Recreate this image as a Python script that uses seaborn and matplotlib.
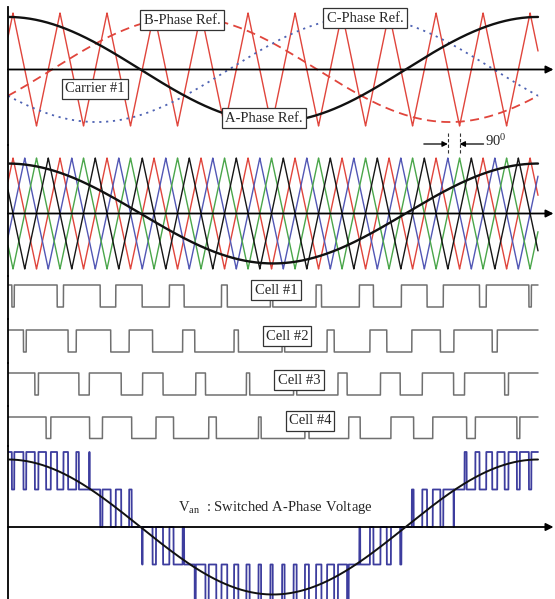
import numpy as np
import pandas as pd
import matplotlib
matplotlib.use("Agg")
import matplotlib.pyplot as plt
import seaborn as sns

sns.set_theme(style="white")
plt.rcParams["font.family"] = ["Liberation Serif", "DejaVu Serif"]
plt.rcParams["mathtext.fontset"] = "custom"
plt.rcParams["mathtext.rm"] = "Liberation Serif"
plt.rcParams["mathtext.it"] = "Liberation Serif:italic"

# ---------------- signal description ----------------
phase_names = ["A-Phase Ref.", "B-Phase Ref.", "C-Phase Ref."]
phase_peak_deg = [0, 120, 240]
phase_colors = ["#111111", "#e0453c", "#4f63b3"]
phase_dashes = [None, (5, 3), (1.2, 2.6)]
ref_amp_top = 0.93          # reference amplitude in the carrier #1 panel
mod_index = 0.90            # reference amplitude used for the comparisons

carrier_period_deg = 31.93
carrier_first_peak_deg = 3.4
carrier_shift_frac = [0.0, 0.25, 0.5, 0.75]
carrier_colors = ["#e0453c", "#5257b5", "#4aa64a", "#161616"]
cell_names = ["Cell #1", "Cell #2", "Cell #3", "Cell #4"]
cell_color = "#707070"
van_color = "#3d3d9e"

# ---------------- layout (pixels) ----------------
W, H = 555, 599
x_left, x_right = 8, 555
px_per_deg = 530 / 360
# (top, bottom, zero line, pixels per unit)
panel_px = [
    (7, 145, 69.5, 56.5),     # carrier #1 and three references
    (145, 276, 213.5, 55.5),  # four shifted carriers
    (276, 319, 307, 22),      # cell 1
    (319, 363, 352, 22),      # cell 2
    (363, 406, 395, 22),      # cell 3
    (406, 446, 438.5, 21.5),  # cell 4
    (446, 599, 527, 37.5),    # phase voltage
]

theta = np.linspace(0, 360, 24001)


def carrier(th, shift):
    u = (th - carrier_first_peak_deg) / carrier_period_deg - shift
    return 1 - 4 * np.abs(u - np.round(u))


def ref(th, peak, amp):
    return amp * np.cos(np.deg2rad(th - peak))


fig = plt.figure(figsize=(W / 100, H / 100), dpi=100)
fig.patch.set_facecolor("white")

axes = []
for top, bot, zero, ppu in panel_px:
    ax = fig.add_axes([x_left / W, 1 - bot / H, (x_right - x_left) / W, (bot - top) / H])
    ax.set_xlim(0, (x_right - x_left) / px_per_deg)
    ax.set_ylim(-(bot - zero) / ppu, (zero - top) / ppu)
    ax.set_facecolor("none")
    for s in ["top", "right", "bottom"]:
        ax.spines[s].set_visible(False)
    ax.spines["left"].set_color("black")
    ax.spines["left"].set_linewidth(1.3)
    ax.set_xticks([])
    ax.set_yticks([])
    ax.set_xlabel("")
    ax.set_ylabel("")
    axes.append(ax)


def draw(ax, y, color, lw, dashes=None, z=2):
    df = pd.DataFrame({"theta": theta, "v": y})
    kw = {}
    if dashes is not None:
        kw["dashes"] = dashes
    sns.lineplot(data=df, x="theta", y="v", ax=ax, color=color, linewidth=lw,
                 estimator=None, legend=False, zorder=z, **kw)
    ax.set_xlabel("")
    ax.set_ylabel("")


def zero_axis(ax):
    xmax = (553.5 - x_left) / px_per_deg
    ax.annotate("", xy=(xmax, 0), xytext=(0, 0),
                arrowprops=dict(arrowstyle="-|>", color="black", lw=1.3,
                                mutation_scale=11, shrinkA=0, shrinkB=0),
                zorder=3)


box = dict(boxstyle="square,pad=0.22", fc="white", ec="#333333", lw=0.9)
label_fs = 10.5

# ---- panel 1: carrier #1 with the three phase references ----
ax = axes[0]
zero_axis(ax)
draw(ax, carrier(theta, carrier_shift_frac[0]), carrier_colors[0], 1.0, z=2)
for i in [1, 2]:
    draw(ax, ref(theta, phase_peak_deg[i], ref_amp_top), phase_colors[i], 1.3,
         dashes=phase_dashes[i], z=2)
draw(ax, ref(theta, phase_peak_deg[0], ref_amp_top), phase_colors[0], 1.7, z=4)


def px_to_data(ax_i, xp, yp):
    top, bot, zero, ppu = panel_px[ax_i]
    return (xp - x_left) / px_per_deg, (zero - yp) / ppu


for txt, (xp, yp) in zip(["B-Phase Ref.", "C-Phase Ref.", "Carrier #1", "A-Phase Ref."],
                         [(182, 20), (365, 18), (95, 89), (264, 118)]):
    xd, yd = px_to_data(0, xp, yp)
    ax.text(xd, yd, txt, ha="center", va="center", fontsize=label_fs, bbox=box, zorder=6)

# ---- panel 2: four phase-shifted carriers ----
ax = axes[1]
zero_axis(ax)
for k, c in enumerate(carrier_colors):
    draw(ax, carrier(theta, carrier_shift_frac[k]), c, 1.0, z=2)
draw(ax, ref(theta, 0, mod_index), "#111111", 1.7, z=4)

# 90 degree spacing between neighbouring carriers
th_b = carrier_first_peak_deg + (9 + carrier_shift_frac[1]) * carrier_period_deg
th_g = carrier_first_peak_deg + (9 + carrier_shift_frac[2]) * carrier_period_deg
_, y_hi = px_to_data(1, 0, 132)
_, y_lo = px_to_data(1, 0, 153)
_, y_ar = px_to_data(1, 0, 144)
for th in [th_b, th_g]:
    ax.plot([th, th], [y_lo, y_hi], color="#333333", lw=0.8, ls=(0, (3, 2)), clip_on=False)
arrow_len = 24 / px_per_deg
ax.annotate("", xy=(th_b, y_ar), xytext=(th_b - arrow_len, y_ar),
            arrowprops=dict(arrowstyle="-|>", color="black", lw=0.9, mutation_scale=8,
                            shrinkA=0, shrinkB=0), annotation_clip=False)
ax.annotate("", xy=(th_g, y_ar), xytext=(th_g + arrow_len, y_ar),
            arrowprops=dict(arrowstyle="-|>", color="black", lw=0.9, mutation_scale=8,
                            shrinkA=0, shrinkB=0), annotation_clip=False)
_, y_t = px_to_data(1, 0, 141)
ax.text(th_g + arrow_len + 1 / px_per_deg, y_t, "90$^{0}$", ha="left", va="center",
        fontsize=label_fs, clip_on=False)

# ---- cells: gate signals from reference/carrier comparison ----
a_ref = ref(theta, 0, mod_index)
cells = []
cell_label_px = [(276, 290), (287, 336), (299, 380), (310, 421)]
for k in range(4):
    sig = (a_ref > carrier(theta, carrier_shift_frac[k])).astype(float)
    cells.append(sig)
    ax = axes[2 + k]
    draw(ax, sig, cell_color, 1.1)
    xd, yd = px_to_data(2 + k, *cell_label_px[k])
    ax.text(xd, yd, cell_names[k], ha="center", va="center", fontsize=label_fs,
            bbox=box, zorder=6)

# ---- switched phase voltage ----
ax = axes[6]
zero_axis(ax)
van = np.sum(cells, axis=0) - len(cells) / 2
draw(ax, van, van_color, 1.3, z=2)
draw(ax, ref(theta, 0, mod_index * len(cells) / 2), "#111111", 1.4, z=4)
xd, yd = px_to_data(6, 275, 507)
ax.text(xd, yd, "V$_{\\mathrm{an}}$  : Switched A-Phase Voltage", ha="center", va="center",
        fontsize=label_fs, zorder=6)

fig.savefig("out.png", dpi=100, facecolor="white")
